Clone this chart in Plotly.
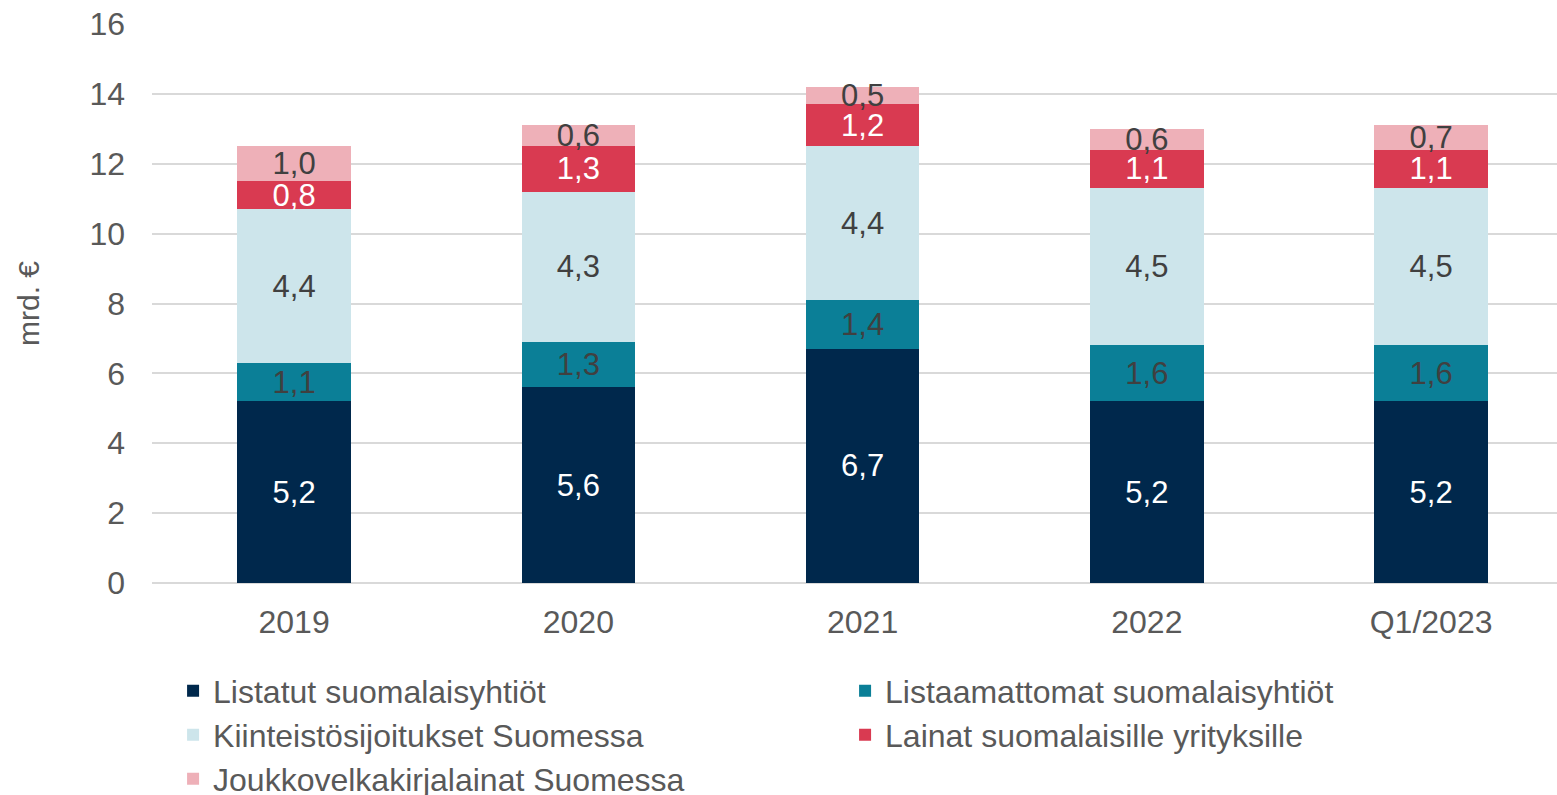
import plotly.graph_objects as go

categories = ["2019", "2020", "2021", "2022", "Q1/2023"]

series_names = [
    "Listatut suomalaisyhtiöt",
    "Listaamattomat suomalaisyhtiöt",
    "Kiinteistösijoitukset Suomessa",
    "Lainat suomalaisille yrityksille",
    "Joukkovelkakirjalainat Suomessa",
]

listatut = [5.2, 5.6, 6.7, 5.2, 5.2]
listaamattomat = [1.1, 1.3, 1.4, 1.6, 1.6]
kiinteistot = [4.4, 4.3, 4.4, 4.5, 4.5]
lainat = [0.8, 1.3, 1.2, 1.1, 1.1]
joukkovelka = [1.0, 0.6, 0.5, 0.6, 0.7]

y_ticks = [0, 2, 4, 6, 8, 10, 12, 14, 16]

colors = ["#00284C", "#0B7F97", "#CDE5EB", "#D93A51", "#EEB0B8"]
label_colors = ["#FFFFFF", "#404040", "#404040", "#FFFFFF", "#404040"]
# two legend entries per row, three rows
legend_ids = ["legend", "legend", "legend2", "legend2", "legend3"]

FONT = "Liberation Sans, Arial, sans-serif"
GREY = "#595959"
LABEL_SIZE = 31

fig = go.Figure()
for name, vals, col, lcol, lg in zip(
    series_names,
    [listatut, listaamattomat, kiinteistot, lainat, joukkovelka],
    colors,
    label_colors,
    legend_ids,
):
    fig.add_trace(
        go.Bar(
            name=name,
            x=categories,
            y=vals,
            legend=lg,
            marker=dict(color=col, line=dict(width=0)),
            width=0.4,
            texttemplate="%{y:.1f}",
            textposition="inside",
            insidetextanchor="middle",
            textangle=0,
            constraintext="none",
            textfont=dict(family=FONT, size=LABEL_SIZE, color=lcol),
            hoverinfo="skip",
        )
    )


def legend_row(y):
    return dict(
        orientation="h",
        x=0.015,
        xanchor="left",
        y=y,
        yanchor="middle",
        entrywidth=627,
        entrywidthmode="pixels",
        traceorder="normal",
        font=dict(family=FONT, size=32, color=GREY),
        bgcolor="rgba(0,0,0,0)",
    )


fig.update_layout(
    barmode="stack",
    width=1557,
    height=795,
    separators=", ",
    paper_bgcolor="white",
    plot_bgcolor="white",
    margin=dict(l=152, r=0, t=24, b=212, autoexpand=False),
    font=dict(family=FONT, color=GREY, size=30),
    uniformtext=dict(mode="show", minsize=LABEL_SIZE),
    showlegend=True,
    legend=legend_row(-0.1932),
    legend2=legend_row(-0.2719),
    legend3=legend_row(-0.3506),
    xaxis=dict(
        range=[-0.5, 4.443],
        showgrid=False,
        showline=False,
        ticks="",
        tickfont=dict(family=FONT, size=32, color=GREY),
        ticklabelstandoff=17,
    ),
    yaxis=dict(
        range=[0, 16],
        tickvals=y_ticks,
        showgrid=True,
        gridcolor="#D9D9D9",
        gridwidth=2,
        zeroline=True,
        zerolinecolor="#D9D9D9",
        zerolinewidth=2,
        showline=False,
        ticks="",
        tickfont=dict(family=FONT, size=32, color=GREY),
        ticklabelstandoff=26,
        title=dict(
            text="mrd. €",
            font=dict(family=FONT, size=30, color=GREY),
            standoff=40,
        ),
    ),
)

fig.write_html("out.html")
